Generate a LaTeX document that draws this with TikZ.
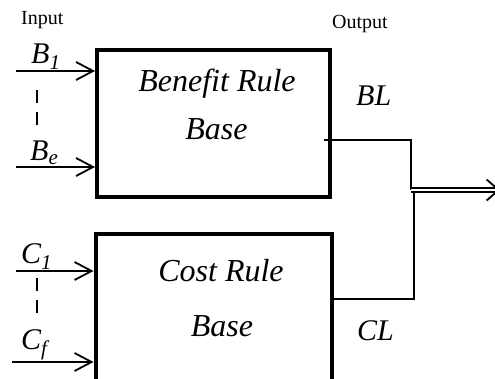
\documentclass[tikz,border=0pt]{standalone}
\usepackage{fontspec}
\setmainfont{Liberation Serif}
\usetikzlibrary{arrows.meta, positioning}
\tikzset{
x=1pt, y=-1pt, % coordinates are measured from the top left corner
rulebox/.style={draw, line width=4pt, inner sep=0pt}, % the two rule bases
boxtext/.style={font=\fontsize{32}{36}\selectfont\itshape, inner sep=0pt, anchor=base},
sig/.style={font=\fontsize{30}{34}\selectfont\itshape, inner sep=0pt, anchor=base west},
iotext/.style={font=\fontsize{20}{24}\selectfont, inner sep=0pt, anchor=base west},
inarrow/.style={line width=1.8pt, -{Straight Barb[length=17pt, width=18pt, line width=1.8pt]}},
dots/.style={line width=1.8pt, dash pattern=on 13pt off 9pt},
wire/.style={line width=1.8pt},
dblwire/.style={double, line width=1.3pt, double distance=2.6pt},
}

\begin{document}
\begin{tikzpicture}
    \useasboundingbox (0,0) rectangle (495,379);
    \clip (0,0) rectangle (495,379);

    % rule bases
    \node[rulebox, minimum width=233pt, minimum height=147pt] (bbox) at (213.5,123.5) {};
    \node[rulebox, minimum width=236pt, minimum height=170pt] (cbox) at (213.5,319.5) {};
    \node[boxtext] (btop) at (217,92) {Benefit Rule};
    \node[boxtext] (bbot) at (216.5,140) {Base};
    \node[boxtext] (ctop) at (221,282) {Cost Rule};
    \node[boxtext] (cbot) at (222,336) {Base};

    % headings
    \node[iotext] (input) at (21,25) {Input};
    \node[iotext] (output) at (332,29) {Output};

    % input signals
    \node[sig] (b1) at (31,64) {B\textsubscript{1}};
    \node[sig] (be) at (30,161) {B\textsubscript{e}};
    \node[sig] (c1) at (21,264) {C\textsubscript{1}};
    \node[sig] (cf) at (21,349) {C\textsubscript{f}};
    \coordinate (b1in) at (16,71);
    \coordinate (bein) at (16,167);
    \coordinate (c1in) at (16,271);
    \coordinate (cfin) at (12,362);
    \draw[inarrow] (b1in) -- (b1in -| bbox.west);
    \draw[inarrow] (bein) -- (bein -| bbox.west);
    \draw[inarrow] (c1in) -- (c1in -| cbox.west);
    \draw[inarrow] (cfin) -- (cfin -| cbox.west);
    \coordinate (bdtop) at (37,90);
    \coordinate (bdbot) at (37,127);
    \coordinate (cdtop) at (37,278);
    \coordinate (cdbot) at (37,315);
    \draw[dots] (bdtop) -- (bdbot);
    \draw[dots] (cdtop) -- (cdbot);

    % outputs
    \node[sig] (bl) at (356,106) {BL};
    \node[sig] (cl) at (357,340) {CL};
    \coordinate (jn) at (411,190);
    \coordinate (outend) at (500,190);
    \draw[wire] ([shift={(-8,16.5)}]bbox.east) -| (jn);
    \draw[wire] ([yshift=20.5pt]cbox.east) -| ([shift={(3,2)}]jn);
    \draw[dblwire] (jn) -- (outend);
    \draw[line width=1.8pt, -{Straight Barb[length=12pt, width=21pt, line width=1.8pt]}] ([xshift=-4pt]outend) -- (outend);
\end{tikzpicture}
\end{document}
